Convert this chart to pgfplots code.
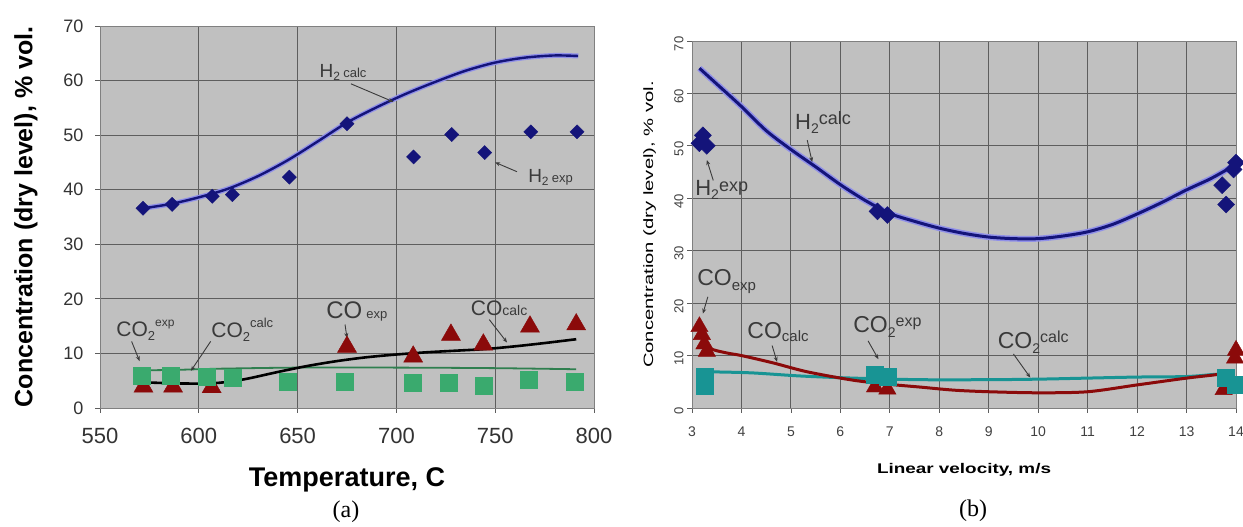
\documentclass[border=0pt]{standalone}
\usepackage{fontspec}
\setmainfont{Liberation Sans}
\newfontfamily\capfont{Liberation Serif}
\usepackage{pgfplots}
\pgfplotsset{compat=1.18}
\usetikzlibrary{arrows.meta}

\definecolor{bggray}{HTML}{C0C0C0}
\definecolor{gridgray}{HTML}{5E5E5E}
\definecolor{h2blue}{HTML}{14147A}
\definecolor{h2halo}{HTML}{9090E8}
\definecolor{cored}{HTML}{8B0A0A}
\definecolor{co2green}{HTML}{3AAA6E}
\definecolor{co2line}{HTML}{2F7F4F}
\definecolor{tealc}{HTML}{189494}
\definecolor{annot}{HTML}{3A3A3A}
\newcommand{\fs}[1]{\fontsize{#1bp}{#1bp}\selectfont}

\tikzset{arr/.style={annot, line width=0.9bp, -{Stealth[length=5bp,width=4bp]}}}
\pgfplotsset{
  common/.style={
    scale only axis, anchor=south west, clip=false,
    grid=major, major grid style={gridgray, line width=0.9bp},
    axis background/.style={fill=bggray},
    axis line style={gray, line width=0.9bp},
    tick style={gridgray, line width=0.8bp}, tick align=outside, major tick length=5bp,
    xtick pos=bottom, ytick pos=left,
    /pgf/number format/assume math mode=true,
    /pgf/number format/1000 sep={},
  },
}

\begin{document}
\begin{tikzpicture}[x=1bp,y=1bp]
\useasboundingbox (0,0) rectangle (1243,527);
\fill[white] (0,0) rectangle (1243,527);

% ---------------- Panel (a)
\begin{axis}[common,
  at={(100bp,119bp)}, width=494bp, height=382bp,
  xmin=550, xmax=800, ymin=0, ymax=70,
  xtick={550,600,...,800}, ytick={0,10,...,70},
  xticklabel style={font=\fs{22}, text=black!80, yshift=-12bp},
  yticklabel style={font=\fs{18}, text=black!80, xshift=-8bp},
  xlabel={\textbf{Temperature, C}},
  xlabel style={font=\fs{27}, at={(axis description cs:0.5,-0.188)}, anchor=center},
  ylabel={\textbf{Concentration (dry level), \% vol.}},
  ylabel style={font=\fs{25}, at={(axis description cs:-0.15,0.5)}, anchor=center},
]
% CO2 calc
\addplot[co2line, line width=1.8bp, smooth] coordinates {
(572,6.9) (590,7.0) (610,7.2) (650,7.4) (700,7.4) (750,7.3) (791,7.1)};
% CO exp
\addplot[only marks, mark=triangle*, mark size=11bp, mark options={fill=cored, draw=cored}] coordinates {
(572,3.9) (587,3.9) (606.5,3.8) (675,11.2) (708.5,9.4) (727.6,13.4) (744,11.6) (767.6,14.9) (791,15.3)};
% CO2 exp
\addplot[only marks, mark=square*, mark size=8.5bp, mark options={fill=co2green, draw=co2green}] coordinates {
(571,6.0) (586,6.0) (604,5.7) (617,5.5) (645,4.8) (674,4.8) (708,4.6) (726.5,4.6) (744,4.0) (767,5.1) (790,4.9)};
% CO calc
\addplot[black, line width=2.6bp, smooth] coordinates {
(572,4.7) (590,4.5) (605,4.5) (615,4.8) (625,5.4) (640,6.6) (655,7.7) (670,8.6) (685,9.3) (700,9.8) (715,10.2) (730,10.5) (745,10.8) (760,11.3) (775,11.9) (791,12.6)};
% H2 calc
\addplot[h2halo, line width=5bp, smooth, forget plot] coordinates {
(572,36.6) (586,37.4) (600,38.6) (615,40.2) (630,42.5) (645,45.4) (660,48.8) (675,52.3) (690,55.1) (705,57.6) (720,59.8) (735,61.8) (750,63.3) (765,64.2) (780,64.6) (792,64.5)};
\addplot[h2blue, line width=2.4bp, smooth] coordinates {
(572,36.6) (586,37.4) (600,38.6) (615,40.2) (630,42.5) (645,45.4) (660,48.8) (675,52.3) (690,55.1) (705,57.6) (720,59.8) (735,61.8) (750,63.3) (765,64.2) (780,64.6) (792,64.5)};
% H2 exp
\addplot[only marks, mark=square*, mark size=5bp, mark options={rotate=45, fill=h2blue, draw=h2blue}] coordinates {
(571.8,36.6) (586.5,37.3) (606.8,38.8) (617,39.1) (645.8,42.3) (675,52.1) (708.7,46.0) (728,50.1) (744.7,46.8) (768,50.6) (791.4,50.6)};

% annotations
\node[text=annot, inner sep=0] at (axis cs:673,61.5) {\fs{19}H\raisebox{-0.35ex}{\fs{12}2}\,{\fs{13}calc}};
\draw[arr] (axis cs:677,59.4) -- (axis cs:698.5,56.1);
\node[text=annot, inner sep=0] at (axis cs:778,42.2) {\fs{19}H\raisebox{-0.35ex}{\fs{12}2}\,{\fs{13}exp}};
\draw[arr] (axis cs:761,43.3) -- (axis cs:750,45.0);
\node[text=annot, inner sep=0] at (axis cs:573,14.3) {\fs{21}CO\raisebox{-0.35ex}{\fs{13}2}\raisebox{0.9ex}{\fs{12}exp}};
\draw[arr] (axis cs:566,12.2) -- (axis cs:570,8.6);
\node[text=annot, inner sep=0] at (axis cs:622,14.3) {\fs{21}CO\raisebox{-0.35ex}{\fs{13}2}\raisebox{0.9ex}{\fs{13}calc}};
\draw[arr] (axis cs:606,12.2) -- (axis cs:596,6.8);
\node[text=annot, inner sep=0] at (axis cs:680,17.6) {\fs{24}CO\,{\fs{13}exp}};
\draw[arr] (axis cs:674,15.3) -- (axis cs:675,12.8);
\node[text=annot, inner sep=0] at (axis cs:752,18.3) {\fs{21}CO{\fs{14}calc}};
\draw[arr] (axis cs:747,16.2) -- (axis cs:756,12.0);
\end{axis}

% ---------------- Panel (b)
\begin{axis}[common,
  at={(692bp,119bp)}, width=544bp, height=367bp,
  xmin=3, xmax=14, ymin=0, ymax=70,
  xtick={3,4,...,14}, ytick={0,10,...,70},
  xticklabel style={font=\fs{14}, text=black!75, yshift=-10bp},
  yticklabel style={font=\fs{13}, text=black!75, rotate=90, anchor=south, xshift=-3bp},
  xlabel={\scalebox{1.35}[1]{\textbf{Linear velocity, m/s}}},
  xlabel style={font=\fs{14}, at={(axis description cs:0.5,-0.169)}, anchor=center},
  ylabel={\scalebox{1.5}[1]{Concentration (dry level), \% vol.}},
  ylabel style={font=\fs{13.5}, at={(axis description cs:-0.078,0.5)}, anchor=center},
]
% H2 calc
\addplot[h2halo, line width=6bp, smooth, forget plot] coordinates {
(3.15,64.8) (3.5,61.8) (4.0,57.5) (4.5,52.9) (5.0,49.3) (5.5,46.0) (6.0,42.6) (6.5,39.6) (7.0,37.1) (7.5,35.6) (8.0,34.3) (8.5,33.3) (9.0,32.6) (9.5,32.3) (10.0,32.3) (10.5,32.8) (11.0,33.6) (11.5,35.0) (12.0,37.0) (12.5,39.2) (13.0,41.6) (13.5,43.8) (13.95,46.2)};
\addplot[h2blue, line width=3bp, smooth] coordinates {
(3.15,64.8) (3.5,61.8) (4.0,57.5) (4.5,52.9) (5.0,49.3) (5.5,46.0) (6.0,42.6) (6.5,39.6) (7.0,37.1) (7.5,35.6) (8.0,34.3) (8.5,33.3) (9.0,32.6) (9.5,32.3) (10.0,32.3) (10.5,32.8) (11.0,33.6) (11.5,35.0) (12.0,37.0) (12.5,39.2) (13.0,41.6) (13.5,43.8) (13.95,46.2)};
% H2 exp
\addplot[only marks, mark=square*, mark size=6bp, mark options={rotate=45, fill=h2blue, draw=h2blue}] coordinates {
(3.15,50.5) (3.22,52.0) (3.3,50.0) (6.75,37.5) (6.95,36.8) (13.72,42.5) (13.8,38.8) (13.95,45.5) (14.0,46.8)};
% CO exp
\addplot[only marks, mark=triangle*, mark size=10bp, mark options={fill=cored, draw=cored}] coordinates {
(3.15,15.5) (3.2,14.0) (3.25,12.2) (3.3,10.8) (6.7,4.0) (6.95,3.6) (13.75,3.5) (13.98,9.5) (14.0,11.0)};
% CO2 calc
\addplot[tealc, line width=3bp, smooth] coordinates {
(3.35,6.9) (4.2,6.7) (5.2,6.1) (6.26,5.7) (7.6,5.4) (9.0,5.4) (10.0,5.5) (11.0,5.7) (12.0,5.9) (13.0,6.0) (13.55,6.4) (13.9,6.6)};
% CO calc
\addplot[cored, line width=3bp, smooth] coordinates {
(3.2,13.5) (3.36,11.4) (3.7,10.5) (4.0,10.0) (4.64,8.6) (5.33,6.9) (6.26,5.3) (7.0,4.5) (7.6,4.0) (8.3,3.4) (9.0,3.1) (10.0,2.9) (11.0,3.1) (12.0,4.4) (13.0,5.7) (13.55,6.3) (13.9,6.8)};
% CO2 exp
\addplot[only marks, mark=square*, mark size=8.5bp, mark options={fill=tealc, draw=tealc}] coordinates {
(3.25,6.0) (3.25,4.2) (6.7,6.4) (6.95,6.0) (13.8,5.8) (14.0,4.5)};

% annotations
\node[text=annot, inner sep=0] at (axis cs:5.65,54.4) {\fs{22}H\raisebox{-0.4ex}{\fs{14}2}\raisebox{0.35ex}{\fs{18}calc}};
\draw[arr] (axis cs:5.33,51.1) -- (axis cs:5.43,46.9);
\node[text=annot, inner sep=0] at (axis cs:3.6,41.6) {\fs{22}H\raisebox{-0.4ex}{\fs{14}2}\raisebox{0.35ex}{\fs{18}exp}};
\draw[arr] (axis cs:3.43,43.4) -- (axis cs:3.3,47.3);
\node[text=annot, inner sep=0] at (axis cs:3.7,24.2) {\fs{23}CO\raisebox{-0.4ex}{\fs{15}exp}};
\draw[arr] (axis cs:3.32,21.2) -- (axis cs:3.22,18.0);
\node[text=annot, inner sep=0] at (axis cs:4.74,14.5) {\fs{23}CO\raisebox{-0.2ex}{\fs{15}calc}};
\draw[arr] (axis cs:4.62,11.9) -- (axis cs:4.72,8.8);
\node[text=annot, inner sep=0] at (axis cs:6.95,15.5) {\fs{23}CO\raisebox{-0.4ex}{\fs{14}2}\raisebox{0.5ex}{\fs{16}exp}};
\draw[arr] (axis cs:6.56,12.8) -- (axis cs:6.77,9.3);
\node[text=annot, inner sep=0] at (axis cs:9.9,12.6) {\fs{23}CO\raisebox{-0.4ex}{\fs{14}2}\raisebox{0.5ex}{\fs{16}calc}};
\draw[arr] (axis cs:9.5,10.3) -- (axis cs:9.84,5.8);
\end{axis}

\node[font=\capfont\fs{24}] at (346,15) {(a)};
\node[font=\capfont\fs{24}] at (973,16) {(b)};
\end{tikzpicture}
\end{document}
